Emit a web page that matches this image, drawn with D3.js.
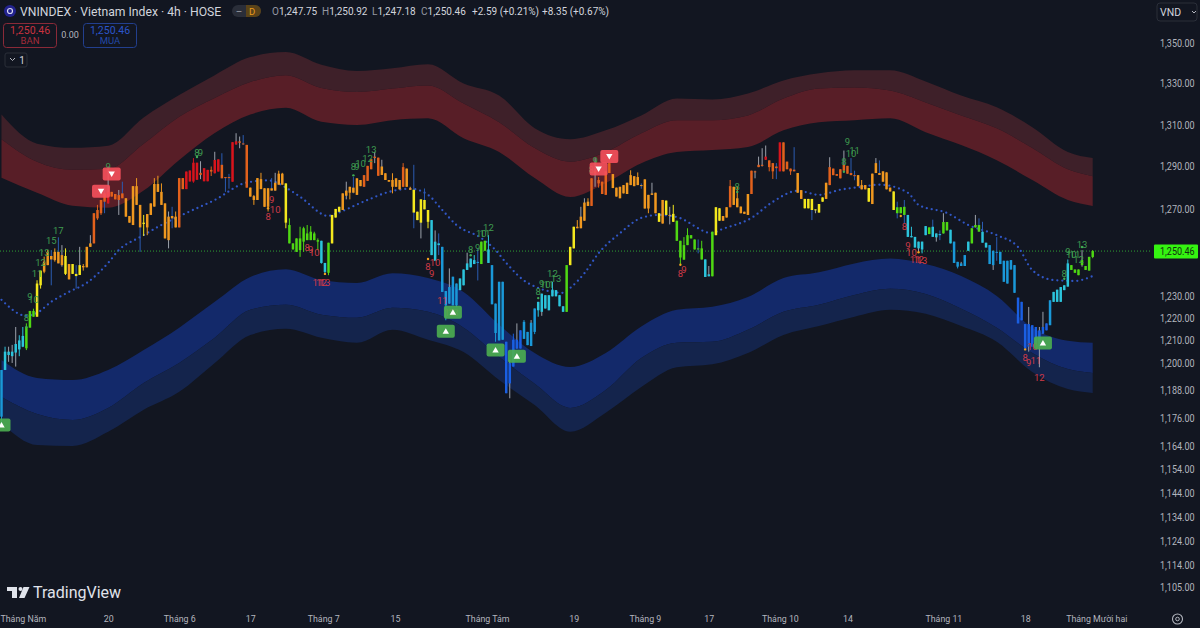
<!DOCTYPE html>
<html>
<head>
<meta charset="utf-8">
<script src="https://cdn.jsdelivr.net/npm/d3@7"></script>
<style>
  html, body { margin: 0; padding: 0; background: #121621; overflow: hidden; }
  svg { display: block; font-family: Roboto, "Noto Sans", sans-serif; }
</style>
</head>
<body>
<svg id="chart" width="1200" height="628"></svg>
<script>
// 4h bars. body edges, wick ends in index points
const bodyHi = [
  1196.9,1205,1205,1205,1208.4,1210,1212,1216,1223.2,1223.2,
  1235.6,1241.5,1245.6,1250.1,1248.2,1250.1,1250.1,1248.6,1248.2,1244.5,
  1244.5,1240,1244,1243.6,1252.4,1254,1268,1269.5,1274.2,1277.3,
  1278,1278,1277,1276.5,1277.3,1275,1266.7,1280.7,1280.7,1271.9,
  1263.6,1267.6,1272.6,1281.7,1281.7,1278,1272.6,1266.4,1266.7,1266.4,
  1284.5,1284.5,1287.6,1288.1,1291.8,1291.8,1287,1289.2,1288.4,1288.4,
  1293.1,1293.4,1290.8,1285,1285,1301.6,1302,1302,1301,1300.3,
  1280,1276,1284.5,1284,1279.7,1279.7,1279.7,1282.3,1286.6,1286.6,
  1282,1262.5,1254,1256.3,1256.3,1261,1258.6,1259.4,1258.6,1255.5,
  1255.2,1245,1254.3,1267.2,1270,1271,1277.3,1278.6,1280.4,1280,
  1284.4,1283.6,1285.9,1290.3,1293.5,1294.7,1294.2,1290,1286.8,1283.6,
  1283.6,1284.4,1283.6,1289.7,1289,1279.7,1279,1268.7,1274.5,1274.2,
  1269.5,1264.8,1254.8,1254,1252.4,1232.2,1234,1238.7,1235.6,1237.9,
  1242,1244.8,1247,1246.3,1245.5,1254.8,1255.2,1251.2,1244,1226.5,
  1236.4,1236.4,1209.4,1199.9,1210.3,1210.3,1214.5,1218.3,1213.8,1217.9,
  1224.3,1227.3,1231,1230.3,1230.3,1232.8,1232.6,1230.3,1225.3,1244,
  1252.4,1261.7,1261.7,1266.4,1273,1273.4,1284.4,1287.7,1283.6,1282.8,
  1287.7,1291.6,1286.4,1280,1280.4,1281.2,1282.3,1285.9,1285.4,1285,
  1281.2,1283.9,1276.6,1277.3,1277.6,1268,1274.2,1273.9,1267.2,1267.7,
  1264.5,1255.2,1253.2,1257.8,1257.8,1255.8,1251.7,1251.7,1246.6,1239.8,
  1259.4,1270.8,1270.3,1266.7,1270.8,1280.7,1280.4,1275,1271.1,1268.7,
  1277,1288,1287.7,1290.8,1290.8,1294.7,1292.9,1291.6,1290,1301.5,
  1301.5,1292.3,1289,1288.5,1286.9,1278.8,1274.7,1274.7,1274.7,1269.8,
  1272.3,1275.4,1282.3,1289.7,1289,1286.4,1288.7,1290.8,1290.3,1286.9,
  1285.9,1285.9,1281.2,1281.2,1279.8,1286.6,1291.6,1286.9,1287.7,1287.2,
  1280,1278.2,1270.8,1270.8,1271,1267.2,1257.4,1257,1254.8,1254.8,
  1262,1261.4,1261.7,1258.6,1258.3,1263.9,1263.9,1260.3,1254.8,1245.5,
  1244.8,1248.6,1254.8,1261,1262.5,1262.5,1259.4,1254.3,1253.2,1250.6,
  1250.1,1250.1,1246,1246,1246.3,1244,1229.2,1227.3,1217.3,1217.3,
  1216.8,1216,1214.5,1216,1217.6,1228,1231.8,1232.8,1234,1234.8,
  1244.8,1244,1242,1242,1246.3,1243.6,1247.8,1250.46
];
const bodyLo = [
  1176.5,1196.9,1203.5,1203,1204.6,1206,1207.2,1206.5,1215.7,1220.6,
  1220.6,1234.8,1241,1244,1246.6,1246.3,1244.8,1244,1240,1237.5,
  1240,1239,1239.5,1243,1243,1252.4,1254,1265.6,1268,1273.4,
  1272.6,1275.8,1274.5,1274.2,1275,1266.4,1263.6,1262.5,1271.9,1261.4,
  1263,1261.4,1267.2,1271.1,1278,1271.9,1256.3,1255.5,1265.6,1261.4,
  1261.4,1279.3,1279.3,1282.9,1282.9,1283.7,1286,1283,1283,1287.6,
  1286.8,1287.6,1284.4,1284.5,1284.5,1282.8,1300.5,1301.3,1300.7,1280,
  1275.8,1274.2,1274.2,1279.3,1271,1271,1278.6,1278.6,1281.4,1281.4,
  1263.6,1254,1251.2,1250.1,1250.9,1254.8,1255.5,1255.5,1255.5,1254.8,
  1245,1240.9,1240.5,1254,1266,1268.7,1269.5,1276.2,1277.6,1277.6,
  1276.6,1280.7,1280.4,1283.2,1288.7,1294,1285.6,1286,1283.6,1282.8,
  1280.4,1280.4,1279.2,1280.4,1280.4,1279,1268.3,1264.8,1263.6,1269.8,
  1264,1248.6,1246,1253.2,1231.8,1225.7,1226.5,1225.7,1225.7,1232.6,
  1234.8,1241.8,1243,1244.5,1245,1244.5,1250.6,1245,1226.2,1213.3,
  1210,1210.3,1186.7,1191,1198.4,1206.4,1206.4,1210.7,1207.9,1207.5,
  1213.8,1223.5,1222.8,1224.3,1223.5,1229.8,1229.8,1225.3,1222.8,1222.8,
  1244,1251.7,1261,1261,1264.5,1271.4,1271.4,1286.9,1282,1277,
  1276.6,1286.9,1279.8,1275.8,1275,1277.3,1277,1281.2,1280.7,1281.2,
  1281,1270.2,1270.2,1276.6,1268,1264,1263.2,1267.2,1266.8,1264,
  1255.2,1247.5,1246.5,1253.2,1256.3,1251.2,1251.2,1246.6,1238.6,1238.9,
  1238.9,1257.8,1264.5,1264.5,1266,1270.8,1271.9,1270.8,1268,1267.7,
  1267.2,1277,1287.2,1289.7,1290.3,1293.2,1289.7,1287.7,1289.2,1287.7,
  1287.7,1288.7,1287.7,1287.7,1277.6,1274.7,1270.3,1270.3,1269.5,1269.5,
  1268.3,1273.4,1274.7,1281.2,1285.9,1285.6,1284.4,1288,1286.6,1285.9,
  1285.4,1280.7,1279.2,1279.2,1273.4,1272.3,1286.9,1286,1282.8,1279.2,
  1278.2,1269.5,1268,1268,1267.2,1257,1256.8,1252.1,1251.7,1251.2,
  1257.8,1258.3,1257,1256.8,1257.8,1258.6,1260,1254,1245,1243.3,
  1243.6,1243.6,1250.6,1254,1261.4,1259.4,1254.3,1252.1,1244.5,1244,
  1249.7,1244.5,1236.4,1235.6,1242,1231.4,1217.6,1219,1206.4,1207.2,
  1207.2,1208.7,1207.2,1213,1214.5,1216.8,1227.3,1227.3,1227.3,1232.6,
  1234.2,1241.8,1240.5,1239.4,1244,1241.8,1241.5,1247.75
];
const highs = [
  1196.9,1207.2,1207.2,1208,1216,1212.3,1216,1217.6,1223.2,1224.2,
  1237.1,1241.5,1247.9,1250.9,1250.9,1251.7,1256.8,1253.2,1251.7,1244.5,
  1244.5,1244,1252.4,1244.5,1252.4,1257.8,1268,1271.9,1274.2,1280.4,
  1290,1278,1277,1278.9,1282.8,1275,1266.7,1280.7,1284.5,1271.9,
  1267.2,1267.6,1272.6,1284.5,1285.6,1282,1272.6,1268.8,1271,1268.8,
  1284.5,1284.5,1287.6,1288.1,1294,1291.8,1292.5,1289.2,1288.4,1290,
  1297,1293.4,1296.3,1285,1286.5,1301.6,1305.9,1304.3,1305,1300.3,
  1280,1276.5,1284.5,1287,1279.7,1279.7,1284.5,1287,1288,1287,
  1282,1265.6,1254,1256.3,1261.7,1261.7,1262.5,1262,1259.4,1256.3,
  1255.2,1245,1254.3,1267.2,1270,1271,1277.3,1282.8,1280.4,1285,
  1284.4,1283.6,1285.9,1290.3,1293.5,1297,1294.2,1293.2,1286.8,1283.6,
  1286.8,1284.4,1283.6,1291.6,1289,1280.4,1290.8,1268.7,1274.5,1279.6,
  1269.5,1264.8,1260,1258.6,1252.4,1232.2,1242.5,1238.7,1235.6,1237.9,
  1242,1249.7,1247,1248.6,1251.7,1254.8,1255.2,1257.8,1244,1226.5,
  1236.4,1236.4,1209.4,1201.4,1213,1217.6,1214.5,1219.1,1213.8,1219.1,
  1224.3,1227.3,1231,1230.3,1230.3,1236.4,1232.6,1230.3,1225.3,1244,
  1252.4,1261.7,1264.8,1271,1275,1275,1284.4,1294,1285,1282.8,
  1287.7,1291.6,1286.4,1280,1280.4,1281.2,1282.3,1288.2,1285.4,1287.2,
  1282,1283.9,1276.6,1282.3,1277.6,1268,1274.2,1273.9,1271,1271.9,
  1264.5,1255.2,1256.9,1261,1257.8,1255.8,1255.8,1255.2,1246.6,1243.6,
  1259.4,1270.8,1270.3,1266.7,1270.8,1283.6,1280.4,1280.4,1271.1,1268.7,
  1277,1288,1288,1294.7,1298.7,1300,1292.9,1291.6,1291.6,1301.5,
  1301.5,1292.3,1289,1299.2,1286.9,1278.8,1274.7,1274.7,1274.7,1269.8,
  1272.3,1275.4,1282.3,1294.4,1289,1286.4,1288.7,1297.6,1290.3,1294,
  1288,1285.9,1283.6,1281.2,1279.8,1286.6,1294,1292.9,1287.7,1287.2,
  1280,1278.2,1273.4,1270.8,1274.2,1267.2,1261.7,1257,1254.8,1254.8,
  1262,1261.4,1265,1258.6,1260,1268,1263.9,1260.3,1254.8,1245.5,
  1245.5,1248.6,1254.8,1261,1267.2,1265.6,1264,1254.3,1253.2,1250.6,
  1256.9,1250.1,1246,1246,1246.3,1244,1229.2,1227.3,1217.3,1225,
  1216.8,1216,1216,1222.8,1217.6,1228,1231.8,1232.8,1234,1234.8,
  1246.6,1244,1242,1242,1250.9,1243.6,1247.8,1250.92
];
const lows = [
  1173.6,1196.9,1200.5,1200,1198.4,1203,1207,1205.7,1215.7,1220.6,
  1220.6,1233.3,1240.3,1244,1234.8,1245.6,1244.8,1243.3,1239.5,1237.5,
  1240,1233.3,1239.5,1241.5,1243,1252.4,1254,1264.9,1267.2,1268,
  1272.6,1275.8,1274.5,1267.2,1275,1266.4,1263.6,1262.5,1271.9,1250.1,
  1257.4,1257.8,1267.2,1271.1,1278,1271.9,1256.3,1251.7,1261,1261.4,
  1261.4,1279.3,1279.3,1282.9,1282.3,1283.7,1284,1283,1283,1285.5,
  1286.8,1287.6,1284.4,1278,1279.5,1282.8,1300.5,1298.7,1300.3,1280,
  1275.8,1271.9,1274.2,1279.3,1271,1268.8,1278.6,1278.6,1281.4,1281.4,
  1261,1254,1251.2,1250.1,1247.8,1250.1,1255.5,1255.5,1255.5,1250.9,
  1244.7,1240,1239.4,1254,1266,1268.7,1269.5,1274.5,1274.5,1277.3,
  1276.6,1280.7,1280.4,1283.2,1288.7,1291.6,1285.6,1286,1283.6,1282.8,
  1277.3,1280.4,1279.2,1280.4,1280.4,1279,1261,1264.8,1256.3,1269.8,
  1261,1248.6,1246,1248.6,1231.8,1219,1226.5,1225.7,1225,1232.6,
  1234.8,1241.8,1243,1244.5,1237,1244.5,1250.6,1245,1226.2,1209.4,
  1210,1210.3,1186.7,1184.5,1198.4,1206.4,1206.4,1210.7,1207.9,1207.5,
  1212.8,1220.6,1221,1224.3,1223.5,1229.8,1229.8,1225.3,1222.8,1222.8,
  1244,1251.7,1261,1261,1264.5,1271.4,1271.4,1280.4,1280,1277,
  1276.6,1286.9,1279.8,1275.8,1275,1277.3,1277,1281.2,1280.7,1281.2,
  1279.5,1270.2,1268,1276.6,1268,1264,1263.2,1267.2,1262.8,1264,
  1255.2,1244,1246.5,1253.2,1256.3,1251.2,1249.4,1246.6,1238.6,1238.9,
  1238.9,1257.8,1264.5,1264.5,1266,1270.8,1271.9,1270.8,1268,1267.7,
  1267.2,1277,1284.4,1289.7,1290,1293.2,1287.7,1284.1,1284,1287.7,
  1287.7,1288.7,1286,1287.7,1277.6,1274.7,1270.3,1270.3,1264.8,1268,
  1268.3,1273.4,1274.7,1281.2,1285.9,1285.6,1284.4,1288,1286.6,1285.9,
  1283.5,1280.7,1279.2,1279.2,1273.4,1272.3,1286.9,1286,1282.8,1279.2,
  1278.2,1269.5,1265.6,1268,1263.2,1257,1256.8,1252.1,1250,1249.4,
  1257.8,1258.3,1257,1254.8,1255.5,1258.6,1260,1254,1245,1242.5,
  1243.6,1243.6,1250.6,1254,1261.4,1259.4,1254.3,1252.1,1244.5,1241.8,
  1246,1244.5,1236.4,1235.6,1242,1231.4,1217.6,1219,1206.4,1205,
  1207.2,1208.7,1198.1,1213,1214.5,1216.8,1227.3,1227.3,1227.3,1232.6,
  1234.2,1241.8,1240.5,1239.4,1243.3,1241.8,1241.5,1247.18
];
// index into barPalette for each bar
const barTone = [
  6,5,5,5,5,5,5,4,4,4, 3,3,2,2,2,2,2,2,3,2, 3,3,3,2,2,2,1,1,1,1, 0,1,1,1,1,2,2,2,2,2,
  3,2,2,2,2,2,2,2,2,2, 1,1,0,0,0,0,1,0,0,1, 0,0,1,1,1,0,0,1,1,1, 2,2,2,2,2,2,2,2,2,2,
  3,4,4,4,4,4,4,4,4,4, 5,5,4,3,3,3,2,2,2,2, 2,2,1,1,1,1,1,2,2,2, 2,2,2,1,2,2,3,3,3,3,
  3,5,5,5,6,6,6,6,6,5, 5,5,5,5,6,4,4,5,6,6, 6,6,7,7,7,7,7,6,6,6, 6,5,5,5,5,5,5,5,5,4,
  3,3,2,2,2,2,1,1,1,1, 1,1,2,2,2,2,2,2,2,2, 2,2,2,2,2,3,2,3,2,3, 4,4,4,4,4,4,4,4,5,5,
  4,3,3,2,2,1,2,2,2,2, 2,1,1,1,1,0,1,1,1,0, 1,1,1,1,2,2,3,3,3,3, 3,3,2,1,1,1,1,1,1,1,
  1,2,2,2,3,2,2,2,2,2, 2,3,4,4,4,5,5,5,5,5, 5,4,5,5,5,4,4,5,6,6, 6,6,5,4,4,4,5,5,6,6,
  6,6,6,6,6,6,7,7,7,7, 7,7,7,7,7,6,5,5,5,5, 5,4,4,4,4,4,4,4
];
const barPalette = ['#d8141c', '#e2611c', '#f0981f', '#f4e81e', '#4fd813', '#2cc4dc', '#1a98d8', '#1a5fe2'];
const grayWicks = [2,3,4,17,22,25,30,33,47,56,60,66,67,77,97,105,107,118,122,126,131,143,145,149,152,163,164,167,183,188,199,212,213,214,215,229,233,237,246,258,263,265,270,274,279,289,292,293,304];
const blueWicks = [14,16,21,29,34,39,48,62,63,64,68,76,99,116,119,123,134,180,196,218,223,228,239,240,247,252,254,262,264,275,276,280];

// ribbons, sampled every 10 bars
const ribbonBars = [0,10,20,30,40,50,60,70,80,90,100,110,120,130,140,150,160,170,180,190,200,210,220,230,240,250,260,270,280,290,300,307];
const redTop = [1314.9,1300.9,1298.9,1299.9,1313.5,1324.4,1334.1,1343,1345.5,1339.2,1336.1,1337.5,1339.5,1330,1324.1,1308.3,1303,1307.3,1314.5,1322.7,1322.2,1325.1,1331.5,1335,1336.5,1336.5,1331,1324.1,1318.4,1308.8,1296.9,1294];
const redMid = [1303,1292.2,1288.4,1288.9,1300.9,1313.9,1323,1330.7,1334.1,1327.8,1325.9,1327.6,1329.1,1320.3,1311.2,1298.8,1292.3,1296.9,1305.9,1312.2,1312.2,1314.5,1322.7,1327.6,1328.1,1326.6,1320.8,1314.5,1308.3,1298.8,1288.7,1285.4];
const redBottom = [1284.7,1277.6,1271.5,1270.6,1278.6,1293.1,1306,1314.9,1318.2,1311.4,1309.9,1312.2,1313.1,1303.5,1296.9,1284.5,1275.6,1282.2,1291.6,1296.9,1297.9,1299.3,1307.3,1311.2,1312.2,1313.1,1306.4,1300.2,1293,1283.6,1274.2,1271.4];
const blueTop = [1201.3,1193.4,1192.5,1196.9,1205.7,1215.7,1227.3,1238.6,1242.1,1237.2,1235.9,1240.3,1238.1,1231.8,1217,1204.4,1198.2,1204.4,1216.2,1223.7,1225.1,1229.5,1238.1,1240.7,1244.8,1247,1244.5,1239,1230,1215.7,1209.9,1209];
const blueMid = [1185.1,1177.7,1175.1,1180.3,1191.2,1200,1211.2,1223.7,1226,1221.5,1220.1,1224.6,1222.8,1215.7,1202.6,1190.8,1180.3,1188.1,1202.2,1209,1209.4,1214.8,1222.8,1226,1230.4,1233.2,1230.9,1224.2,1215.7,1204.4,1197.3,1195.6];
const blueBottom = [1173.8,1164.3,1163.9,1170,1179.5,1187.3,1200,1212.4,1215.2,1211.2,1209,1214.8,1210.3,1204.8,1192.5,1181.6,1170,1178.2,1189.4,1198.1,1199.4,1204.4,1212.4,1216.4,1220.6,1223.7,1221.9,1216.4,1209.4,1196,1188.5,1186.8];

// dotted average
const avgBars = [0,7,10,14,19,24,30,33,39,45,52,60,69,75,81,84,92,93,103,109,115,120,124,128,135,139,142,148,158,160,164,168,174,180,185,190,200,202,211,217,224,230,236,242,247,255,258,266,272,280,286,290,296,302,307];
const avgValues = [1228.2,1221,1222.3,1227.3,1231.8,1235.9,1245,1250.9,1256.9,1262.5,1268.1,1274.2,1282.4,1283.4,1279,1275.7,1266.7,1267.2,1274.2,1278,1279.5,1276.6,1269.5,1262.5,1256.4,1250.9,1245,1235.9,1231.4,1233.6,1240.3,1249.5,1258.7,1265.8,1267.2,1266.2,1258.7,1260.1,1265.8,1273.3,1278.5,1276.6,1279,1280.4,1281.4,1277.6,1271.9,1268.1,1262.5,1257.8,1252.3,1241.7,1237.2,1236.8,1239];

const lastPrice = 1250.46;

// buy / sell flags
const sellBars = [28,31,168,171];
const sellPrices = [1278.3,1286.4,1288.8,1294.7];
const buyBars = [0,125,127,139,145,293];
const buyPrices = [1172.9,1214.1,1222.6,1205.7,1203,1208.9];

// sequence counters
const upLabels = ['8','9','10','11','12','13','15','17','9','8','9','8','9','10','12','13','8','9','10','11','12','8','9','10','11','12','13','8','9','8','8','9','10','11','8','9','10','11','12','13'];
const upBars = [7,8,9,10,11,12,14,16,30,55,56,99,100,101,103,104,132,134,135,136,137,151,152,153,154,155,156,166,167,207,237,238,239,240,299,300,301,302,303,304];
const upPrices = [1220.1,1229.6,1228.2,1240,1245,1250,1255.4,1260,1289.8,1296.5,1296.5,1289.8,1289.8,1291.2,1294,1297.9,1251.3,1252.3,1258.7,1258.7,1261.5,1231.8,1235.4,1235,1235,1240,1238.1,1288.4,1292.7,1280.4,1292.2,1302,1296,1297.4,1240.3,1250.4,1249,1249,1246.8,1253.6];
const downLabels = ['8','9','10','8','9','10','11','12','13','8','9','10','11','12','13','8','9','8','9','10','11','12','13','8','9','10','11','12'];
const downBars = [75,76,77,86,87,88,89,90,91,120,121,122,124,126,127,191,192,254,255,256,257,258,259,288,289,290,291,292];
const downPrices = [1266.7,1274.6,1269.9,1252.3,1251,1249.9,1235.9,1235.9,1235.9,1243.4,1240.3,1245.4,1227.7,1222.3,1222.3,1240.3,1242.1,1262,1252.8,1249.9,1246.8,1246.8,1246.3,1202.6,1200.4,1207.1,1200.9,1193.8];
const amberDotBars = [75,91,120,191,253,258,288];
const amberDotPrices = [1270.3,1240,1246.8,1244.2,1266.7,1249.9,1206];
const greenDotBars = [7,55,99,132,151,207,237,299,304];
const greenDotPrices = [1216,1294.5,1285.8,1248.5,1229,1278,1287.5,1237.8,1252.3];

// axes
const priceTicks = [1350,1330,1310,1290,1270,1230,1220,1210,1200,1188,1176,1164,1154,1144,1134,1124,1114,1105];
const timeTickBars = [6,30,50,70,90.5,110.7,136.6,161,181,199,219,238,265,288,308];
const timeTickLabels = ['Tháng Năm','20','Tháng 6','17','Tháng 7','15','Tháng Tám','19','Tháng 9','17','Tháng 10','14','Tháng 11','18','Tháng Mười hai'];

const bg = '#121621';
const svg = d3.select('#chart');

const barCount = bodyHi.length;
[bodyLo, highs, lows, barTone].forEach(a => {
  if (a.length !== barCount) throw new Error('bar array length ' + a.length + ' vs ' + barCount);
});

const x = d3.scaleLinear().domain([0, barCount - 1]).range([1.5, 1092.7]);
const y = d3.scaleLog().domain([1105, 1350]).range([587, 43]);

svg.append('rect').attr('width', 1200).attr('height', 628).attr('fill', bg);

// ribbons
function ribbon(upper, lower, color) {
  const area = d3.area()
    .x((d, i) => x(d))
    .y0((d, i) => y(lower[i]))
    .y1((d, i) => y(upper[i]))
    .curve(d3.curveMonotoneX);
  svg.append('path').datum(ribbonBars).attr('d', area).attr('fill', color);
}
ribbon(redTop, redMid, '#3e2029');
ribbon(redMid, redBottom, '#581e27');
ribbon(blueTop, blueMid, '#13296a');
ribbon(blueMid, blueBottom, '#14244c');

// last price line
svg.append('line')
  .attr('x1', 0).attr('x2', 1152)
  .attr('y1', y(lastPrice)).attr('y2', y(lastPrice))
  .attr('stroke', '#2f9e34').attr('stroke-width', 1).attr('stroke-dasharray', '1 2');

// dotted average
const avgLine = d3.line()
  .x(d => x(d[0]))
  .y(d => y(d[1]))
  .curve(d3.curveMonotoneX);
svg.append('path')
  .datum(avgBars.map((b, i) => [b, avgValues[i]]))
  .attr('d', avgLine)
  .attr('fill', 'none')
  .attr('stroke', '#3056c4')
  .attr('stroke-width', 2.3)
  .attr('stroke-linecap', 'round')
  .attr('stroke-dasharray', '0 5');

// bars
const bars = d3.range(barCount);
const wickColor = i => {
  if (grayWicks.includes(i)) return '#9ca1ab';
  if (blueWicks.includes(i)) return '#2b5cb2';
  return barPalette[barTone[i]];
};
svg.append('g').selectAll('line').data(bars).enter().append('line')
  .attr('x1', i => x(i)).attr('x2', i => x(i))
  .attr('y1', i => y(highs[i])).attr('y2', i => y(lows[i]))
  .attr('stroke', wickColor).attr('stroke-width', 1);
svg.append('g').selectAll('rect').data(bars).enter().append('rect')
  .attr('x', i => x(i) - 1.25).attr('width', 2.5)
  .attr('y', i => y(bodyHi[i]))
  .attr('height', i => Math.max(1, y(bodyLo[i]) - y(bodyHi[i])))
  .attr('fill', i => barPalette[barTone[i]]);

// counter dots
function dots(barsList, prices, color) {
  svg.append('g').selectAll('circle').data(barsList).enter().append('circle')
    .attr('cx', d => x(d))
    .attr('cy', (d, i) => y(prices[i]))
    .attr('r', 1.2).attr('fill', color);
}
dots(amberDotBars, amberDotPrices, '#f0a01f');
dots(greenDotBars, greenDotPrices, '#3fae55');

// counters
function counters(labels, barsList, prices, color) {
  svg.append('g').selectAll('text').data(labels).enter().append('text')
    .attr('x', (d, i) => x(barsList[i]))
    .attr('y', (d, i) => y(prices[i]))
    .attr('text-anchor', 'middle')
    .attr('dominant-baseline', 'central')
    .attr('font-size', 9.5)
    .attr('fill', color)
    .text(d => d);
}
counters(upLabels, upBars, upPrices, '#3f9c50');
counters(downLabels, downBars, downPrices, '#cf3a48');

// flags
function flags(barsList, prices, color, up) {
  const g = svg.append('g').selectAll('g').data(barsList).enter().append('g')
    .attr('transform', (d, i) => `translate(${x(d)},${y(prices[i])})`);
  g.append('rect')
    .attr('x', -9).attr('y', -6.5).attr('width', 18).attr('height', 13).attr('rx', 2)
    .attr('fill', color).attr('opacity', 0.9);
  g.append('path')
    .attr('d', up ? 'M0,-3L3.2,2.5L-3.2,2.5Z' : 'M0,3L3.2,-2.5L-3.2,-2.5Z')
    .attr('fill', '#fff');
}
flags(sellBars, sellPrices, '#f6505c', false);
flags(buyBars, buyPrices, '#4caf50', true);

// price axis
const priceAxis = d3.axisRight(y)
  .tickValues(priceTicks)
  .tickFormat(d3.format(',.2f'))
  .tickSize(0)
  .tickPadding(0);
const priceG = svg.append('g').attr('transform', 'translate(1160,0)').call(priceAxis);
priceG.select('.domain').remove();
priceG.selectAll('text')
  .attr('fill', '#b2b5be').attr('font-size', 10.5).attr('font-family', 'Roboto, sans-serif')
  .attr('textLength', 34.5).attr('lengthAdjust', 'spacingAndGlyphs');

// last price tag
svg.append('rect').attr('x', 1154).attr('y', 244.5).attr('width', 44).attr('height', 14).attr('rx', 1).attr('fill', '#35f411');
svg.append('text').attr('x', 1160).attr('y', y(lastPrice) + 0.5)
  .attr('dominant-baseline', 'central')
  .attr('font-size', 10.5).attr('fill', '#123010')
  .attr('textLength', 34.5).attr('lengthAdjust', 'spacingAndGlyphs')
  .text(d3.format(',.2f')(lastPrice));

// time axis
const timeAxis = d3.axisBottom(x)
  .tickValues(timeTickBars)
  .tickFormat((d, i) => timeTickLabels[i])
  .tickSize(0)
  .tickPadding(0);
const timeG = svg.append('g').attr('transform', 'translate(0,615.5)').call(timeAxis);
timeG.select('.domain').remove();
timeG.selectAll('text')
  .attr('fill', '#b2b5be').attr('font-size', 9.8).attr('font-family', 'Roboto, sans-serif')
  .each(function () {
    // axis font is narrower than Roboto
    d3.select(this)
      .attr('textLength', this.getComputedTextLength() * 0.9)
      .attr('lengthAdjust', 'spacingAndGlyphs');
  });

// header
svg.append('circle').attr('cx', 10).attr('cy', 11).attr('r', 6).attr('fill', '#23238f');
svg.append('circle').attr('cx', 10).attr('cy', 11).attr('r', 2.5).attr('fill', 'none').attr('stroke', '#d8d8f0').attr('stroke-width', 1.2);
svg.append('text').attr('x', 20).attr('y', 15.5).attr('font-size', 12.2).attr('fill', '#d1d4dc')
  .text('VNINDEX · Vietnam Index · 4h · HOSE');

svg.append('rect').attr('x', 232).attr('y', 5).attr('width', 29).attr('height', 12).attr('rx', 6).attr('fill', '#2a2e39');
svg.append('path').attr('d', 'M246,5h9a6,6 0 0 1 0,12h-9z').attr('fill', '#5a4319');
svg.append('text').attr('x', 239).attr('y', 14.5).attr('font-size', 10).attr('text-anchor', 'middle').attr('fill', '#9598a1').text('–');
svg.append('text').attr('x', 252).attr('y', 14.5).attr('font-size', 9.5).attr('text-anchor', 'middle').attr('fill', '#e89a1c').text('D');

const ohlc = [['O', '1,247.75', 272], ['H', '1,250.92', 322], ['L', '1,247.18', 372], ['C', '1,250.46', 421]];
const ohlcText = svg.append('text').attr('y', 15).attr('font-size', 10);
ohlc.forEach(p => {
  ohlcText.append('tspan').attr('x', p[2]).attr('fill', '#9598a1').text(p[0]);
  ohlcText.append('tspan').attr('fill', '#d1d4dc').text(p[1]);
});
ohlcText.append('tspan').attr('x', 472).attr('fill', '#d1d4dc').text('+2.59 (+0.21%)');
ohlcText.append('tspan').attr('x', 542).attr('fill', '#d1d4dc').text('+8.35 (+0.67%)');

// order buttons
function orderBox(bx, stroke, priceColor, labelColor, label) {
  svg.append('rect').attr('x', bx + 0.5).attr('y', 23.5).attr('width', 53).attr('height', 24).attr('rx', 3)
    .attr('fill', 'none').attr('stroke', stroke);
  svg.append('text').attr('x', bx + 27).attr('y', 34).attr('text-anchor', 'middle').attr('font-size', 10.5).attr('fill', priceColor).text('1,250.46');
  svg.append('text').attr('x', bx + 27).attr('y', 44).attr('text-anchor', 'middle').attr('font-size', 9.5).attr('fill', labelColor).text(label);
}
orderBox(3, '#8a2a38', '#c8323f', '#a52c3a', 'BAN');
orderBox(83, '#223f8e', '#2b55c9', '#2249a8', 'MUA');
svg.append('text').attr('x', 70).attr('y', 38).attr('text-anchor', 'middle').attr('font-size', 9).attr('fill', '#b2b5be').text('0.00');

svg.append('rect').attr('x', 5).attr('y', 53).attr('width', 22).attr('height', 14).attr('rx', 2).attr('fill', 'none').attr('stroke', '#2a2e39');
svg.append('path').attr('d', 'M10,58l2.5,2.5l2.5,-2.5').attr('fill', 'none').attr('stroke', '#b2b5be');
svg.append('text').attr('x', 22).attr('y', 63.5).attr('text-anchor', 'middle').attr('font-size', 10).attr('fill', '#d1d4dc').text('1');

svg.append('rect').attr('x', 1157).attr('y', 3).attr('width', 40).attr('height', 18).attr('rx', 3).attr('fill', 'none').attr('stroke', '#2a2e39');
svg.append('text').attr('x', 1160).attr('y', 15.5).attr('font-size', 10.5).attr('fill', '#d1d4dc').text('VND');
svg.append('path').attr('d', 'M1192,11l2,2l2,-2').attr('fill', 'none').attr('stroke', '#b2b5be');

// logo
svg.append('path').attr('fill', '#e0e3eb')
  .attr('d', 'M7,587h10v11h-5v-7h-5z M23.5,587h6l-5,11h-5.5z');
svg.append('circle').attr('cx', 20.5).attr('cy', 589).attr('r', 2).attr('fill', '#e0e3eb');
svg.append('text').attr('x', 33).attr('y', 598).attr('font-size', 16).attr('font-weight', 400).attr('fill', '#e0e3eb').text('TradingView');

// settings icon
svg.append('circle').attr('cx', 1177.5).attr('cy', 619).attr('r', 5).attr('fill', 'none').attr('stroke', '#b2b5be').attr('stroke-width', 1.1);
svg.append('circle').attr('cx', 1177.5).attr('cy', 619).attr('r', 1.8).attr('fill', 'none').attr('stroke', '#b2b5be').attr('stroke-width', 1);
</script>
</body>
</html>
